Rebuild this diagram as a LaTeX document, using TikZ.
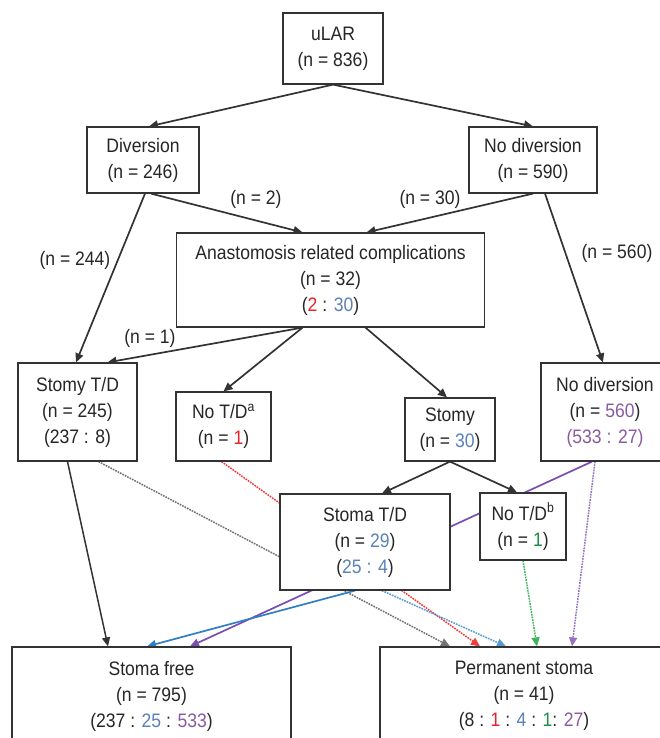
\documentclass[tikz,border=0pt]{standalone}
\usepackage{fontspec}
\setmainfont{Liberation Sans}[FakeStretch=0.9]
\usetikzlibrary{arrows.meta,backgrounds}

\definecolor{nred}{HTML}{E8202A}
\definecolor{nblue}{HTML}{5A82B8}
\definecolor{npurple}{HTML}{8B5BA0}
\definecolor{ngreen}{HTML}{1E8C4A}
\definecolor{lblue}{HTML}{2F7FC4}
\definecolor{lpurple}{HTML}{7A4DB0}
\definecolor{lgreen}{HTML}{3DB35C}
\definecolor{lred}{HTML}{F03C3C}

\tikzset{
  box/.style={draw=black!80, line width=1.2pt, fill=white, align=center,
    inner sep=0pt, font=\fontsize{19.5}{26}\selectfont, text=black!85},
  lbl/.style={font=\fontsize{19.5}{26}\selectfont, text=black!85},
  arr/.style={line width=1.7pt, draw=black!80, -{Triangle[length=9pt,width=8pt]}},
  dotarr/.style={arr, densely dotted, line width=1.5pt}
}

\begin{document}
\begin{tikzpicture}[x=1pt,y=-1pt]
        \useasboundingbox (0,0) rectangle (659,738);

        \node[box, minimum width=100pt, minimum height=71pt] (ular) at (333,48.5) {uLAR\\(n = 836)};
        \node[box, minimum width=112pt, minimum height=66pt] (div) at (143,160) {Diversion\\(n = 246)};
        \node[box, minimum width=128pt, minimum height=66pt] (nodiv) at (533,160) {No diversion\\(n = 590)};
        \node[box, minimum width=308pt, minimum height=94pt] (anast) at (330.5,280)
            {Anastomosis related complications\\(n = 32)\\(\textcolor{nred}{2} : \textcolor{nblue}{30})};
        \node[box, minimum width=119pt, minimum height=98pt] (stomytd) at (77.5,412) {Stomy T/D\\(n = 245)\\(237 : 8)};
        \node[box, minimum width=95pt, minimum height=69pt] (notda) at (223.5,426.5) {No T/D\textsuperscript{a}\\(n = \textcolor{nred}{1})};
        \node[box, minimum width=90pt, minimum height=63pt] (stomy) at (450,429.5) {Stomy\\(n = \textcolor{nblue}{30})};
        \node[box, minimum width=128pt, minimum height=98pt] (nodivb) at (605,412)
            {No diversion\\(n = \textcolor{npurple}{560})\\\textcolor{npurple}{(533 : 27)}};
        \node[box, minimum width=170pt, minimum height=96pt] (stomatd) at (365,542)
            {Stoma T/D\\(n = \textcolor{nblue}{29})\\(\textcolor{nblue}{25 : 4})};
        \node[box, minimum width=86pt, minimum height=67pt] (notdb) at (523,526.5) {No T/D\textsuperscript{b}\\(n = \textcolor{ngreen}{1})};
        \node[box, minimum width=279pt, minimum height=98pt] (free) at (151.5,696)
            {Stoma free\\(n = 795)\\(237 : \textcolor{nblue}{25} : \textcolor{npurple}{533})};
        \node[box, minimum width=288pt, minimum height=98pt] (perm) at (524,696)
            {Permanent stoma\\(n = 41)\\(8 : \textcolor{nred}{1} : \textcolor{nblue}{4} : \textcolor{ngreen}{1}: \textcolor{npurple}{27})};

        \node[lbl] (l244) at (75,260) {(n = 244)};
        \node[lbl] (l2) at (256,199) {(n = 2)};
        \node[lbl] (l30) at (430,199) {(n = 30)};
        \node[lbl] (l560) at (617,253) {(n = 560)};
        \node[lbl] (l1) at (150,338) {(n = 1)};

        \begin{pgfonlayer}{background}
        \draw[arr] (ular.south) -- ([xshift=6pt]div.north);
        \draw[arr] (ular.south) -- (nodiv.north);
        \draw[arr] ([xshift=8pt]div.south) -- ([xshift=-28pt]anast.north);
        \draw[arr] (nodiv.south) -- ([xshift=36pt]anast.north);
        \draw[arr] ([xshift=2pt]div.south) -- ([xshift=-1.5pt]stomytd.north);
        \draw[arr] ([xshift=12pt]nodiv.south) -- ([xshift=-2pt]nodivb.north);
        \draw[arr] ([xshift=-28pt]anast.south) -- ([xshift=30pt]stomytd.north);
        \draw[arr] ([xshift=-28pt]anast.south) -- (notda.north);
        \draw[arr] ([xshift=35pt]anast.south) -- ([xshift=-3pt]stomy.north);
        \draw[arr] (stomy.south) -- ([xshift=17pt]stomatd.north);
        \draw[arr] (stomy.south) -- ([xshift=-6pt]notdb.north);

        % towards the outcome boxes
        \draw[arr, line width=1.5pt] ([xshift=-10pt]stomytd.south) -- ([xshift=-43.5pt]free.north);
        \draw[dotarr, draw=black!55] ([xshift=21pt]stomytd.south) -- ([xshift=-74pt]perm.north);
        \draw[dotarr, draw=lred] ([xshift=-2pt]notda.south) -- ([xshift=-44pt]perm.north);
        \draw[arr, draw=lpurple] ([xshift=-13pt]nodivb.south) -- ([xshift=38.5pt]free.north);
        \draw[dotarr, draw=lpurple!80] ([xshift=-10pt]nodivb.south) -- ([xshift=48pt]perm.north);
        \draw[arr, draw=lblue] ([xshift=-10pt]stomatd.south) -- ([xshift=-4.5pt]free.north);
        \draw[dotarr, draw=lblue!80] ([xshift=17pt]stomatd.south) -- ([xshift=-18pt]perm.north);
        \draw[dotarr, draw=lgreen] (notdb.south) -- ([xshift=13pt]perm.north);
        \end{pgfonlayer}

    \end{tikzpicture}
\end{document}
